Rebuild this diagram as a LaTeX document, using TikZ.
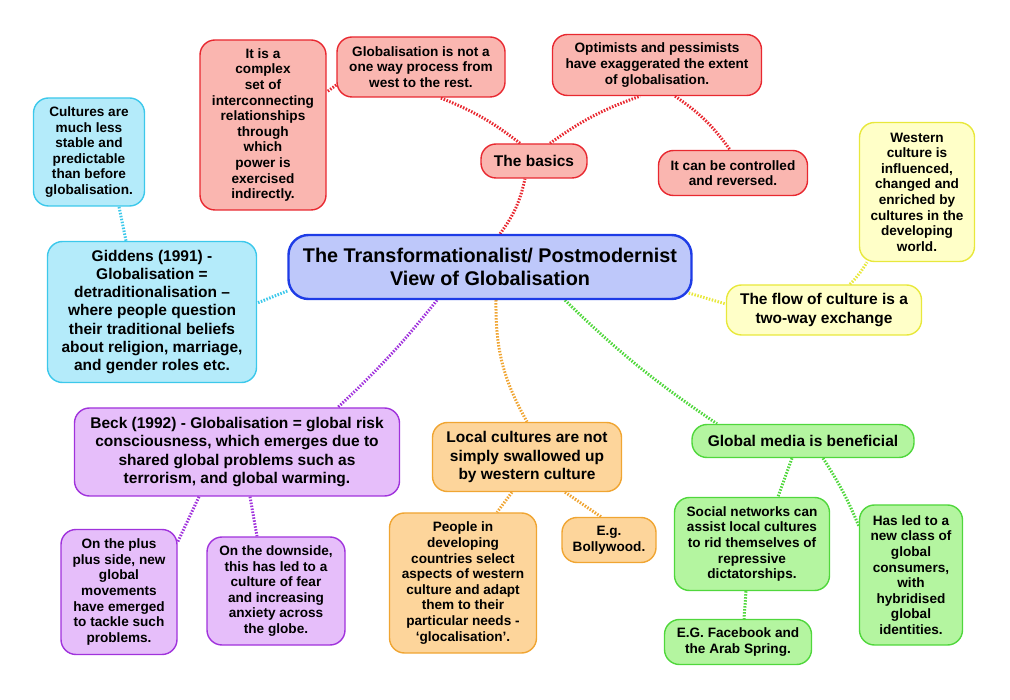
\documentclass[tikz,border=0pt]{standalone}
\usepackage{fontspec}
\setmainfont{Liberation Sans}
\usetikzlibrary{backgrounds}

\definecolor{redfill}{RGB}{250,182,176}
\definecolor{redline}{RGB}{232,40,48}
\definecolor{bluefill}{RGB}{190,200,250}
\definecolor{blueline}{RGB}{30,60,230}
\definecolor{cyanfill}{RGB}{180,235,250}
\definecolor{cyanline}{RGB}{60,200,235}
\definecolor{yellowfill}{RGB}{255,255,200}
\definecolor{yellowline}{RGB}{232,232,60}
\definecolor{purplefill}{RGB}{230,190,250}
\definecolor{purpleline}{RGB}{160,50,220}
\definecolor{orangefill}{RGB}{253,213,155}
\definecolor{orangeline}{RGB}{240,165,50}
\definecolor{greenfill}{RGB}{180,245,160}
\definecolor{greenline}{RGB}{80,215,60}

\begin{document}
\begin{tikzpicture}[x=1pt,y=-1pt,
  box/.style={draw,align=center,inner sep=2,line width=1.4,rounded corners=15},
  idea/.style={box,font=\bfseries\fontsize{13.6}{15.6}\selectfont},
  topic/.style={box,font=\bfseries\fontsize{15.5}{18.2}\selectfont},
  main/.style={box,line width=2.4,rounded corners=20,fill=bluefill,draw=blueline,font=\bfseries\fontsize{19.8}{22.7}\selectfont},
  red branch/.style={fill=redfill,draw=redline},
  cyan branch/.style={fill=cyanfill,draw=cyanline},
  yellow branch/.style={fill=yellowfill,draw=yellowline},
  purple branch/.style={fill=purplefill,draw=purpleline},
  orange branch/.style={fill=orangefill,draw=orangeline},
  green branch/.style={fill=greenfill,draw=greenline},
  link/.style={line width=3,dash pattern=on 1.5 off 1.5},
]
  \useasboundingbox (0,0) rectangle (1010,700);

  \node[main,minimum width=403,minimum height=64] (title) at (490,267) {The Transformationalist/ Postmodernist\\View of Globalisation};

  % the basics
  \node[topic,red branch,minimum width=106,minimum height=34] (basics) at (534,161) {The basics};
  \node[idea,red branch,minimum width=126,minimum height=170] (complex) at (263,125) {It is a\\complex\\set of\\interconnecting\\relationships\\through\\which\\power is\\exercised\\indirectly.};
  \node[idea,red branch,minimum width=168,minimum height=60] (oneway) at (421,67) {Globalisation is not a\\one way process from\\west to the rest.};
  \node[idea,red branch,minimum width=209,minimum height=61] (extent) at (657,65) {Optimists and pessimists\\have exaggerated the extent\\of globalisation.};
  \node[idea,red branch,minimum width=149,minimum height=45] (reversed) at (733,173) {It can be controlled\\and reversed.};

  % giddens
  \node[topic,cyan branch,minimum width=209,minimum height=141] (giddens) at (152,312) {Giddens (1991) -\\Globalisation =\\detraditionalisation --\\where people question\\their traditional beliefs\\about religion, marriage,\\and gender roles etc.};
  \node[idea,cyan branch,minimum width=111,minimum height=108] (stable) at (89,152) {Cultures are\\much less\\stable and\\predictable\\than before\\globalisation.};

  % two-way flow
  \node[topic,yellow branch,minimum width=195,minimum height=50] (flow) at (824,310) {The flow of culture is a\\two-way exchange};
  \node[idea,yellow branch,minimum width=115,minimum height=139] (western) at (917,192) {Western\\culture is\\influenced,\\changed and\\enriched by\\cultures in the\\developing\\world.};

  % beck
  \node[topic,purple branch,minimum width=325,minimum height=88] (beck) at (237,452) {Beck (1992) - Globalisation = global risk\\consciousness, which emerges due to\\shared global problems such as\\terrorism, and global warming.};
  \node[idea,purple branch,minimum width=116,minimum height=125] (plus) at (119,592) {On the plus\\plus side, new\\global\\movements\\have emerged\\to tackle such\\problems.};
  \node[idea,purple branch,minimum width=138,minimum height=108] (downside) at (276,591) {On the downside,\\this has led to a\\culture of fear\\and increasing\\anxiety across\\the globe.};

  % local cultures
  \node[topic,orange branch,minimum width=189,minimum height=69] (local) at (527,457) {Local cultures are not\\simply swallowed up\\by western culture};
  \node[idea,orange branch,minimum width=147,minimum height=140] (glocal) at (463,583) {People in\\developing\\countries select\\aspects of western\\culture and adapt\\them to their\\particular needs -\\`glocalisation'.};
  \node[idea,orange branch,minimum width=94,minimum height=45] (bolly) at (609,540) {E.g.\\Bollywood.};

  % global media
  \node[topic,green branch,minimum width=222,minimum height=33] (media) at (803,441) {Global media is beneficial};
  \node[idea,green branch,minimum width=155,minimum height=93] (social) at (752,544) {Social networks can\\assist local cultures\\to rid themselves of\\repressive\\dictatorships.};
  \node[idea,green branch,minimum width=147,minimum height=45] (facebook) at (738,642) {E.G. Facebook and\\the Arab Spring.};
  \node[idea,green branch,minimum width=103,minimum height=140] (consumers) at (911,575) {Has led to a\\new class of\\global\\consumers,\\with\\hybridised\\global\\identities.};

  \begin{pgfonlayer}{background}
    \draw[link,redline] ([xshift=10]title.north) to[bend right=12] ([xshift=-9]basics.south);
    \draw[link,redline] ([xshift=-14]basics.north) to[bend right=8] ([xshift=19]oneway.south);
    \draw[link,redline] ([xshift=16]basics.north) to[bend left=8] ([xshift=-17]extent.south);
    \draw[link,redline] ([xshift=18]extent.south) to[bend left=10] ([xshift=-3]reversed.north);
    \draw[link,redline] ([yshift=-18]oneway.west) -- ([yshift=33]complex.east);
    \draw[link,cyanline] ([yshift=-24]title.west) -- ([yshift=9]giddens.east);
    \draw[link,cyanline] ([xshift=-26]giddens.north) -- ([xshift=30]stable.south);
    \draw[link,yellowline] ([xshift=-4,yshift=-26]title.east) -- ([yshift=6]flow.west);
    \draw[link,yellowline] ([xshift=26]flow.north) to[bend right=6] ([xshift=-50]western.south);
    \draw[link,purpleline] ([xshift=-53]title.south) to[bend left=4] ([xshift=101]beck.north);
    \draw[link,purpleline] ([xshift=-38]beck.south) -- ([yshift=50]plus.east);
    \draw[link,purpleline] ([xshift=13]beck.south) -- ([xshift=-19]downside.north);
    \draw[link,orangeline] ([xshift=6]title.south) to[bend right=15] (local.north);
    \draw[link,orangeline] ([xshift=-15]local.south) -- ([xshift=34]glocal.north);
    \draw[link,orangeline] ([xshift=38]local.south) -- ([xshift=-8]bolly.north);
    \draw[link,greenline] ([xshift=75]title.south) to[bend right=5] ([xshift=-86]media.north);
    \draw[link,greenline] ([xshift=-11]media.south) -- ([xshift=26]social.north);
    \draw[link,greenline] ([xshift=20]media.south) to[bend left=5] ([yshift=49]consumers.west);
    \draw[link,greenline] ([xshift=-6]social.south) -- ([xshift=6]facebook.north);
  \end{pgfonlayer}
\end{tikzpicture}
\end{document}
